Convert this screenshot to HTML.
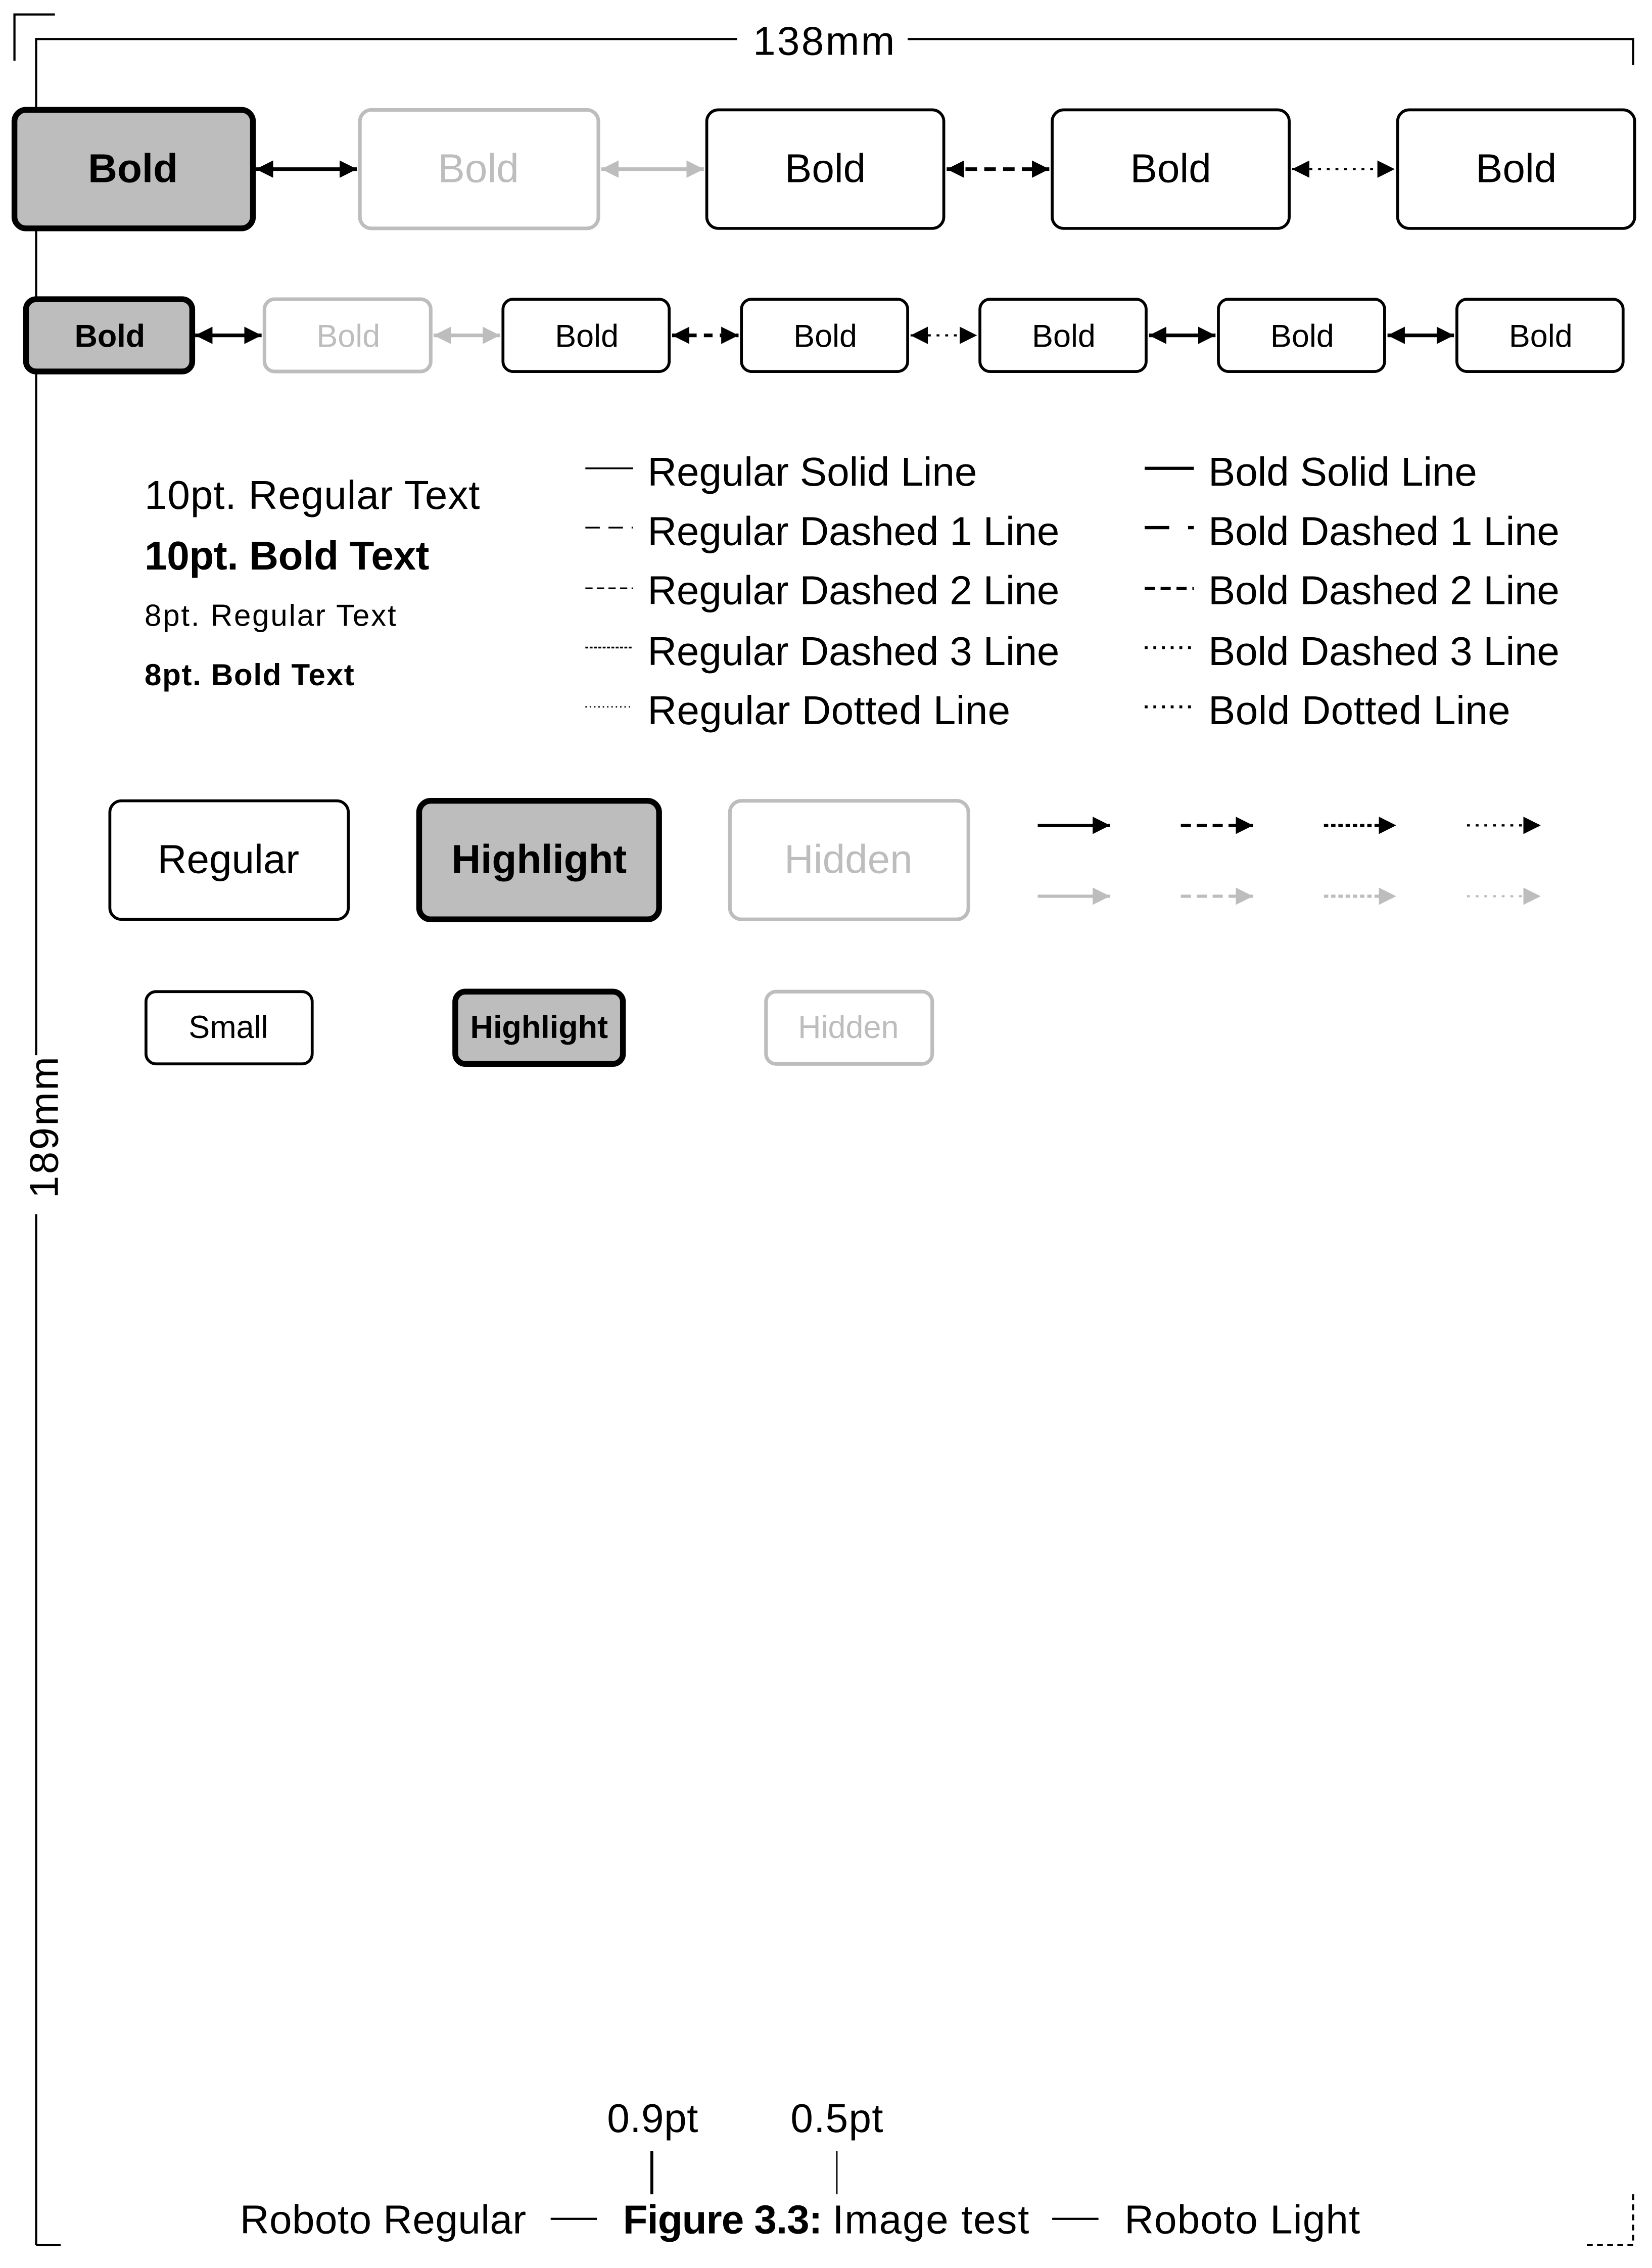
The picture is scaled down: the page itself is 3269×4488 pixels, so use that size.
<!DOCTYPE html>
<html><head><meta charset="utf-8"><style>
html,body{margin:0;padding:0;background:#fff;}
svg{display:block;}
text{font-family:"Liberation Sans",sans-serif;}
</style></head><body>
<svg width="3269" height="4488" viewBox="0 0 1143 1569" preserveAspectRatio="none" xmlns="http://www.w3.org/2000/svg">
<defs>
<marker id="ab" viewBox="0 0 10 10" refX="10" refY="5" markerWidth="12" markerHeight="16" markerUnits="userSpaceOnUse" orient="auto-start-reverse"><path d="M0,0L10,5L0,10z" fill="#000"/></marker>
<marker id="ag" viewBox="0 0 10 10" refX="10" refY="5" markerWidth="12" markerHeight="16" markerUnits="userSpaceOnUse" orient="auto-start-reverse"><path d="M0,0L10,5L0,10z" fill="#bdbdbd"/></marker>
</defs>
<g fill="none" stroke="#000" stroke-width="1.5">
<!-- corner marks -->
<path d="M10,42V10H38"/>
<path d="M25,1553V27H510"/>
<path d="M628,27H1130V45"/>
<path d="M25,1553H42"/>
<path d="M1130,1518V1553H1098" stroke-dasharray="4,3"/>
</g>
<text x="570" y="38" font-size="28" font-weight="300" text-anchor="middle" textLength="98">138mm</text>
<rect x="12" y="730" width="26" height="110" fill="#fff"/>
<text transform="translate(40,780) rotate(-90)" font-size="28" text-anchor="middle" textLength="98">189mm</text>

<!-- Row 1 -->
<g stroke-linejoin="round">
<rect x="10" y="76" width="165" height="82" rx="8" fill="#bdbdbd" stroke="#000" stroke-width="4"/>
<rect x="249" y="76" width="165" height="82" rx="8" fill="#fff" stroke="#bdbdbd" stroke-width="2.5"/>
<rect x="489" y="76" width="164" height="82" rx="8" fill="#fff" stroke="#000" stroke-width="2"/>
<rect x="728" y="76" width="164" height="82" rx="8" fill="#fff" stroke="#000" stroke-width="2"/>
<rect x="967" y="76" width="164" height="82" rx="8" fill="#fff" stroke="#000" stroke-width="2"/>
</g>
<g font-size="28" text-anchor="middle">
<text x="92" y="126" font-weight="bold">Bold</text>
<text x="331" y="126" fill="#bdbdbd">Bold</text>
<text x="571" y="126">Bold</text>
<text x="810" y="126">Bold</text>
<text x="1049" y="126">Bold</text>
</g>
<line x1="177" y1="117" x2="247" y2="117" stroke="#000" stroke-width="2.5" marker-start="url(#ab)" marker-end="url(#ab)"/>
<line x1="416" y1="117" x2="487" y2="117" stroke="#bdbdbd" stroke-width="2.5" marker-start="url(#ag)" marker-end="url(#ag)"/>
<line x1="655" y1="117" x2="726" y2="117" stroke="#000" stroke-width="2.5" stroke-dasharray="8,5" marker-start="url(#ab)" marker-end="url(#ab)"/>
<line x1="894" y1="117" x2="965" y2="117" stroke="#000" stroke-width="1.5" stroke-dasharray="2,4" marker-start="url(#ab)" marker-end="url(#ab)"/>

<!-- Row 2 -->
<g stroke-linejoin="round">
<rect x="18" y="207" width="115" height="50" rx="7" fill="#bdbdbd" stroke="#000" stroke-width="4"/>
<rect x="183" y="207" width="115" height="50" rx="7" fill="#fff" stroke="#bdbdbd" stroke-width="2.5"/>
<rect x="348" y="207" width="115" height="50" rx="7" fill="#fff" stroke="#000" stroke-width="2"/>
<rect x="513" y="207" width="115" height="50" rx="7" fill="#fff" stroke="#000" stroke-width="2"/>
<rect x="678" y="207" width="115" height="50" rx="7" fill="#fff" stroke="#000" stroke-width="2"/>
<rect x="843" y="207" width="115" height="50" rx="7" fill="#fff" stroke="#000" stroke-width="2"/>
<rect x="1008" y="207" width="115" height="50" rx="7" fill="#fff" stroke="#000" stroke-width="2"/>
</g>
<g font-size="22" text-anchor="middle">
<text x="76" y="240" font-weight="bold">Bold</text>
<text x="241" y="240" fill="#bdbdbd">Bold</text>
<text x="406" y="240">Bold</text>
<text x="571" y="240">Bold</text>
<text x="736" y="240">Bold</text>
<text x="901" y="240">Bold</text>
<text x="1066" y="240">Bold</text>
</g>
<line x1="135" y1="232" x2="181" y2="232" stroke="#000" stroke-width="2.5" marker-start="url(#ab)" marker-end="url(#ab)"/>
<line x1="300" y1="232" x2="346" y2="232" stroke="#bdbdbd" stroke-width="2.5" marker-start="url(#ag)" marker-end="url(#ag)"/>
<line x1="465" y1="232" x2="511" y2="232" stroke="#000" stroke-width="2.5" stroke-dasharray="6,5" marker-start="url(#ab)" marker-end="url(#ab)"/>
<line x1="630" y1="232" x2="676" y2="232" stroke="#000" stroke-width="1.5" stroke-dasharray="2,4" marker-start="url(#ab)" marker-end="url(#ab)"/>
<line x1="795" y1="232" x2="841" y2="232" stroke="#000" stroke-width="2.5" marker-start="url(#ab)" marker-end="url(#ab)"/>
<line x1="960" y1="232" x2="1006" y2="232" stroke="#000" stroke-width="2.5" marker-start="url(#ab)" marker-end="url(#ab)"/>

<!-- text samples -->
<text x="100" y="352" font-size="28" textLength="232">10pt. Regular Text</text>
<text x="100" y="394" font-size="28" font-weight="bold" textLength="197">10pt. Bold Text</text>
<text x="100" y="433" font-size="21" textLength="174">8pt. Regular Text</text>
<text x="100" y="474" font-size="21" font-weight="bold" textLength="145">8pt. Bold Text</text>

<g stroke="#000" fill="none">
<line x1="405" y1="324" x2="438" y2="324" stroke-width="1.2"/>
<line x1="405" y1="365" x2="438" y2="365" stroke-width="1.2" stroke-dasharray="10,6"/>
<line x1="405" y1="407" x2="438" y2="407" stroke-width="1.2" stroke-dasharray="5,3"/>
<line x1="405" y1="448" x2="438" y2="448" stroke-width="1.2" stroke-dasharray="2,1"/>
<line x1="405" y1="489" x2="438" y2="489" stroke-width="1" stroke-dasharray="1,2"/>
<line x1="792" y1="324" x2="826" y2="324" stroke-width="2.2"/>
<line x1="792" y1="365" x2="826" y2="365" stroke-width="2.2" stroke-dasharray="17,13,3,0"/>
<line x1="792" y1="407" x2="826" y2="407" stroke-width="2.2" stroke-dasharray="7,4"/>
<line x1="792" y1="448" x2="826" y2="448" stroke-width="2" stroke-dasharray="2,4"/>
<line x1="792" y1="489" x2="826" y2="489" stroke-width="2" stroke-dasharray="2,4"/>
</g>
<g font-size="28" font-weight="300">
<text x="448" y="336" textLength="228">Regular Solid Line</text>
<text x="448" y="377" textLength="285">Regular Dashed 1 Line</text>
<text x="448" y="418" textLength="285">Regular Dashed 2 Line</text>
<text x="448" y="460" textLength="285">Regular Dashed 3 Line</text>
<text x="448" y="501" textLength="251">Regular Dotted Line</text>
<text x="836" y="336" textLength="186">Bold Solid Line</text>
<text x="836" y="377" textLength="243">Bold Dashed 1 Line</text>
<text x="836" y="418" textLength="243">Bold Dashed 2 Line</text>
<text x="836" y="460" textLength="243">Bold Dashed 3 Line</text>
<text x="836" y="501" textLength="209">Bold Dotted Line</text>
</g>

<!-- boxes -->
<g stroke-linejoin="round">
<rect x="76" y="554" width="165" height="82" rx="8" fill="#fff" stroke="#000" stroke-width="2"/>
<rect x="290" y="554" width="166" height="82" rx="8" fill="#bdbdbd" stroke="#000" stroke-width="4"/>
<rect x="505" y="554" width="165" height="82" rx="8" fill="#fff" stroke="#bdbdbd" stroke-width="2.5"/>
<rect x="101" y="686" width="115" height="50" rx="7" fill="#fff" stroke="#000" stroke-width="2"/>
<rect x="315" y="686" width="116" height="50" rx="7" fill="#bdbdbd" stroke="#000" stroke-width="4"/>
<rect x="530" y="686" width="115" height="50" rx="7" fill="#fff" stroke="#bdbdbd" stroke-width="2.5"/>
</g>
<g font-size="28" text-anchor="middle">
<text x="158" y="604">Regular</text>
<text x="373" y="604" font-weight="bold">Highlight</text>
<text x="587" y="604" fill="#bdbdbd">Hidden</text>
</g>
<g font-size="22" text-anchor="middle">
<text x="158" y="718">Small</text>
<text x="373" y="718" font-weight="bold">Highlight</text>
<text x="587" y="718" fill="#bdbdbd">Hidden</text>
</g>

<!-- arrows -->
<line x1="718" y1="571" x2="768" y2="571" stroke="#000" stroke-width="2.2" marker-end="url(#ab)"/>
<line x1="817" y1="571" x2="867" y2="571" stroke="#000" stroke-width="2.2" stroke-dasharray="7,4" marker-end="url(#ab)"/>
<line x1="916" y1="571" x2="966" y2="571" stroke="#000" stroke-width="2.2" stroke-dasharray="3,2" marker-end="url(#ab)"/>
<line x1="1015" y1="571" x2="1066" y2="571" stroke="#000" stroke-width="1.5" stroke-dasharray="2,4" marker-end="url(#ab)"/>
<line x1="718" y1="620" x2="768" y2="620" stroke="#bdbdbd" stroke-width="2.2" marker-end="url(#ag)"/>
<line x1="817" y1="620" x2="867" y2="620" stroke="#bdbdbd" stroke-width="2.2" stroke-dasharray="7,4" marker-end="url(#ag)"/>
<line x1="916" y1="620" x2="966" y2="620" stroke="#bdbdbd" stroke-width="2.2" stroke-dasharray="3,2" marker-end="url(#ag)"/>
<line x1="1015" y1="620" x2="1066" y2="620" stroke="#bdbdbd" stroke-width="1.5" stroke-dasharray="2,4" marker-end="url(#ag)"/>

<!-- bottom -->
<g font-size="28" font-weight="300">
<text x="420" y="1475" textLength="63">0.9pt</text>
<text x="547" y="1475" textLength="64">0.5pt</text>
<text x="166" y="1545" textLength="198">Roboto Regular</text>
<text x="431" y="1545" font-weight="bold" textLength="138">Figure 3.3:</text>
<text x="576" y="1545" textLength="136">Image test</text>
<text x="778" y="1545" textLength="163">Roboto Light</text>
</g>
<line x1="451" y1="1488" x2="451" y2="1518" stroke="#000" stroke-width="2"/>
<line x1="579" y1="1488" x2="579" y2="1518" stroke="#000" stroke-width="1"/>
<line x1="381" y1="1535" x2="413" y2="1535" stroke="#000" stroke-width="1.5"/>
<line x1="728" y1="1535" x2="760" y2="1535" stroke="#000" stroke-width="1.5"/>
</svg>
</body></html>
